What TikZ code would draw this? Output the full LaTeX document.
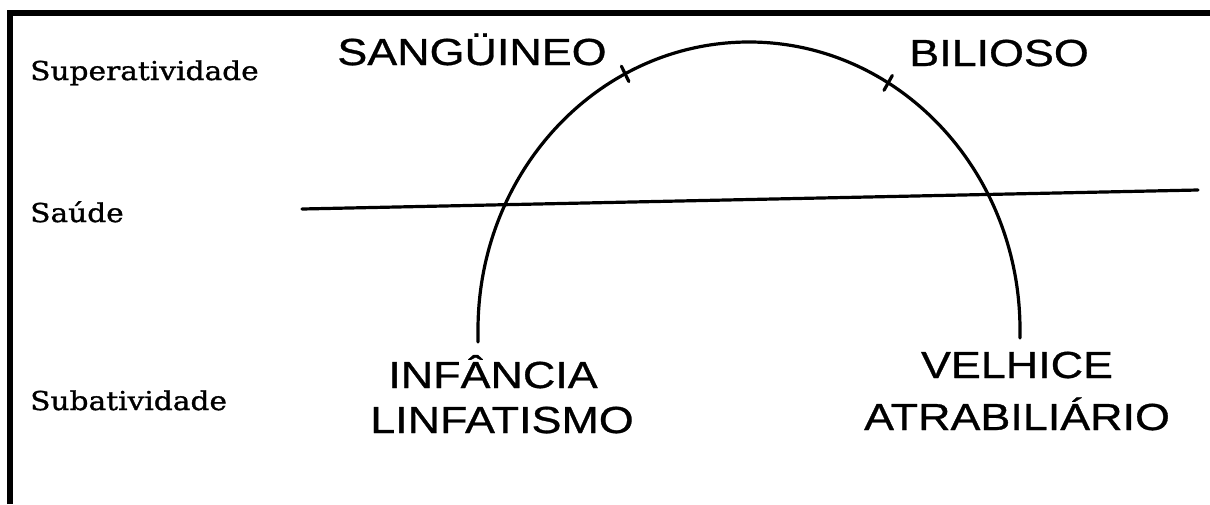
\documentclass[tikz,border=0pt]{standalone}
\usepackage{fontspec}
\setmainfont{DejaVu Serif}
\newfontfamily\capsfont[FakeStretch=1.19,FakeBold=0.8]{Liberation Sans}
\newfontfamily\levelfont[FakeStretch=1.14,FakeBold=1.2]{DejaVu Serif}
\usetikzlibrary{calc,positioning}
\tikzset{
  level/.style={anchor=base west,inner sep=0pt,font=\levelfont\fontsize{26}{30}\selectfont},
  temper/.style={anchor=base,inner sep=0pt,font=\capsfont\fontsize{37.7}{44}\selectfont},
  curve/.style={line width=3.2pt,line cap=round}
}

\begin{document}
\begin{tikzpicture}[x=1pt,y=-1pt]
  \useasboundingbox (0,0) rectangle (1210,504);
  % frame (top and left only)
  \draw[line width=6pt,line join=miter] (9.7,504) -- (9.7,13.3) -- (1210,13.3);

  \node[level] (sup) at (30,80)  {Superatividade};
  \node[level] (sau) at (30,222) {Saúde};
  \node[level] (sub) at (30,410) {Subatividade};

  \node[temper] (sang) at (472,65)  {SANGÜINEO};
  \node[temper] (bili) at (999,66)  {BILIOSO};
  \node[temper] (inf)  at (493,388) {INFÂNCIA};
  \node[temper] (linf) at (502,433) {LINFATISMO};
  \node[temper] (velh) at (1017,378) {VELHICE};
  \node[temper] (atra) at (1017,430) {ATRABILIÁRIO};

  \coordinate (c)   at (749,330);
  \coordinate (beg) at (478,342);
  \coordinate (fin) at (1020,338);
  \coordinate (hl)  at (302,209);
  \coordinate (hr)  at (1198,190);
  \coordinate (ts)  at ($(c)+(242.8:271 and 288)$);
  \coordinate (tb)  at ($(c)+(300.9:271 and 288)$);

  \draw[curve] (beg) -- ($(c)+(-271,0)$)
    arc[start angle=180,end angle=360,x radius=271,y radius=288] -- (fin);
  \draw[curve] (hl) -- (hr);
  \draw[curve] ($(c)!0.97!(ts)$) -- ($(c)!1.03!(ts)$);
  \draw[curve] ($(c)!0.97!(tb)$) -- ($(c)!1.03!(tb)$);
\end{tikzpicture}
\end{document}
